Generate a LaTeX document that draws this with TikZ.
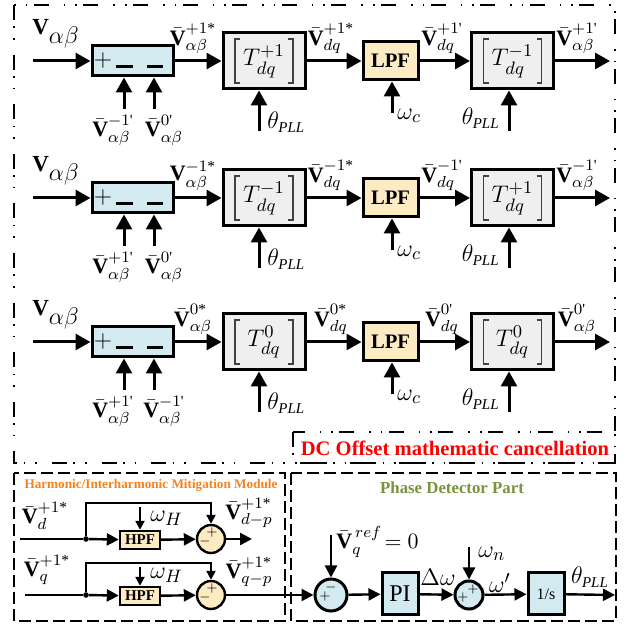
\documentclass[tikz,border=0pt]{standalone}
\usepackage{amsmath}
\usepackage{fontspec}
\setmainfont{Liberation Serif}
\usetikzlibrary{arrows.meta,calc}
\definecolor{subblue}{HTML}{D3EBF0}
\definecolor{tgray}{HTML}{EFEFEF}
\definecolor{lpfor}{HTML}{FDEBC4}
\definecolor{harmor}{HTML}{F58220}
\definecolor{phgreen}{HTML}{77933C}
\definecolor{dcred}{HTML}{FF0000}
\newcommand{\Vt}{\text{\bfseries V}}
\newcommand{\Vb}{\bar{\text{\bfseries V}}}
\newcommand{\pr}{\textnormal{\textquotesingle}}
\newcommand{\st}{\textnormal{*}}
\newcommand{\thp}{\theta_{\mbox{\fontsize{7.5}{8}\selectfont\itshape PLL}}}
\tikzset{
  arr/.style={line width=1.5pt,-{Triangle[length=7.5pt,width=8pt]}},
  arrs/.style={line width=1.2pt,-{Triangle[length=6pt,width=6pt]}},
  arrss/.style={line width=1.1pt,-{Triangle[length=4.5pt,width=4.5pt]}},
  plainln/.style={line width=1.2pt},
  barln/.style={line width=1.5pt},
  brk/.style={line width=0.6pt,black!75},
  lab/.style={inner sep=0pt,font=\fontsize{11}{13}\selectfont},
  biglab/.style={inner sep=0pt,font=\fontsize{12.5}{14}\selectfont},
  subbox/.style={draw,line width=1.5pt,fill=subblue,minimum width=40.5pt,minimum height=15pt,inner sep=0pt},
  tbox/.style={draw,line width=1.5pt,fill=tgray,minimum width=41pt,minimum height=28pt,inner sep=0pt,font=\fontsize{12.5}{14}\selectfont},
  lpfbox/.style={draw,line width=1.5pt,fill=lpfor,minimum width=27.5pt,minimum height=19pt,inner sep=0pt,font=\fontsize{10.3}{12}\selectfont\bfseries},
  hpfbox/.style={draw,line width=1.2pt,fill=lpfor,minimum width=20pt,minimum height=9pt,inner sep=0pt,font=\fontsize{7.5}{9}\selectfont\bfseries},
  pbox/.style={draw,line width=1.5pt,fill=subblue,minimum width=18pt,minimum height=21pt,inner sep=0pt},
  hcirc/.style={draw,circle,line width=1.2pt,fill=lpfor,minimum size=14pt,inner sep=0pt},
  pcirc/.style={draw,circle,line width=1.5pt,fill=subblue,minimum size=16pt,inner sep=0pt},
  sgn/.style={inner sep=0pt,font=\fontsize{6.5}{7}\selectfont},
  jdot/.style={circle,fill=black,minimum size=2.8pt,inner sep=0pt},
  ddbox/.style={line width=1pt,dash pattern=on 7.5pt off 3.2pt on 0.8pt off 5pt on 0.8pt off 7.5pt},
  dbox/.style={line width=1pt,dash pattern=on 6pt off 2.5pt},
}
\newcommand{\brackets}[1]{%
  \draw[brk] ($(#1.center)+(-24,-22)$) -- ++(-5,0) -- ++(0,44) -- ++(5,0);
  \draw[brk] ($(#1.center)+(24,-22)$) -- ++(5,0) -- ++(0,44) -- ++(-5,0);
}
\newcommand{\sigrow}[9]{%
  \coordinate (in#1) at (33,#2);
  \node[lab,font=\fontsize{11.5}{13}\selectfont] (vin#1) at (56,#2-27) {$\Vt_{\textstyle\alpha\beta}$};
  \node[subbox] (s#1) at (132.5,#2) {};
  \node[inner sep=0pt,font=\fontsize{12}{14}\selectfont] (p#1) at (103,#2) {$+$};
  \draw[barln] ($(s#1.center)+(-16.5,6)$) -- ++(17,0);
  \draw[barln] ($(s#1.center)+(14.5,6)$) -- ++(16,0);
  \draw[arr] (in#1) -- (s#1);
  \coordinate (ba#1) at (124,#2+48);
  \coordinate (bb#1) at (154,#2+48);
  \draw[arr] (ba#1) -- (ba#1 |- s#1.south);
  \draw[arr] (bb#1) -- (bb#1 |- s#1.south);
  \node[lab,anchor=north] (lba#1) at (113,#2+54) {$\Vb^{#8}_{\alpha\beta}$};
  \node[lab,anchor=north] (lbb#1) at (164,#2+54) {$\Vb^{#9}_{\alpha\beta}$};
  \node[tbox] (ta#1) at (264,#2) {$T^{#4}_{dq}$};
  \brackets{ta#1}
  \draw[arr] (s#1) -- (ta#1);
  \node[lab,anchor=south] (lsa#1) at (193,#2-7) {#3};
  \coordinate (tha#1) at (259,#2+70);
  \draw[arr] (tha#1) -- (tha#1 |- ta#1.south);
  \node[biglab,anchor=west] (ltha#1) at (267,#2+61) {$\thp$};
  \node[lpfbox] (l#1) at (390.5,#2) {LPF};
  \draw[arr] (ta#1) -- (l#1);
  \node[lab,anchor=south] (lda#1) at (331,#2-7) {$\Vb^{#5}_{dq}$};
  \coordinate (wc#1) at (392,#2+52);
  \draw[arr] (wc#1) -- (wc#1 |- l#1.south);
  \node[biglab,anchor=west] (lwc#1) at (397,#2+55) {$\omega_c$};
  \node[tbox] (tb#1) at (512.5,#2) {$T^{#7}_{dq}$};
  \brackets{tb#1}
  \draw[arr] (l#1) -- (tb#1);
  \node[lab,anchor=south] (ldb#1) at (442,#2-7) {$\Vb^{#6}_{dq}$};
  \coordinate (thb#1) at (509,#2+70);
  \draw[arr] (thb#1) -- (thb#1 |- tb#1.south);
  \node[biglab,anchor=east] (lthb#1) at (500,#2+57) {$\thp$};
  \coordinate (o#1) at (610,#2);
  \draw[arr] (tb#1) -- (o#1);
  \node[lab,anchor=south] (lo#1) at (577,#2-7) {$\Vb^{#6}_{\alpha\beta}$};
}
\begin{document}
\begin{tikzpicture}[x=0.5pt,y=-0.5pt]
\useasboundingbox (0,0) rectangle (632,624);
% frames
\draw[ddbox] (14,5) rectangle (615,463);
\draw[ddbox] (293,432) rectangle (615,463);
\node[inner sep=0pt,text=dcred,font=\fontsize{10.3}{12}\selectfont\bfseries] (dct) at (455,448) {DC Offset mathematic cancellation};
\draw[dbox] (14,473) rectangle (285,621);
\draw[dbox] (291,473) rectangle (616,621);
\node[inner sep=0pt,text=harmor,font=\fontsize{6.6}{8}\selectfont\bfseries] (ht) at (151,485) {Harmonic/Interharmonic Mitigation Module};
\node[inner sep=0pt,text=phgreen,font=\fontsize{8.4}{10}\selectfont\bfseries] (pt) at (452,488) {Phase Detector Part};
% rows
\sigrow{a}{61}{$\Vb^{+1\st}_{\alpha\beta}$}{+1}{+1\st}{+1\pr}{-1}{-1\pr}{0\pr}
\sigrow{b}{198}{$\Vt^{-1\st}_{\alpha\beta}$}{-1}{-1\st}{-1\pr}{+1}{+1\pr}{0\pr}
\sigrow{c}{342}{$\Vb^{0\st}_{\alpha\beta}$}{0}{0\st}{0\pr}{0}{+1\pr}{-1\pr}
% harmonic d
\coordinate (din) at (20,539);
\node[jdot] (dd) at (86,539) {};
\node[hpfbox] (hd) at (140,540) {HPF};
\node[hcirc] (cd) at (211,539) {};
\coordinate (dout) at (252,539);
\coordinate (bd) at (211,503);
\coordinate (wd) at (140,507);
\draw[plainln] (din) -- (dd);
\draw[arrs] (dd) -- (hd);
\draw[arrs] (hd) -- (cd);
\draw[arrs] (cd) -- (dout);
\draw[arrss] (dd) |- (bd) -- (cd);
\draw[arrss] (wd) -- (hd);
\node[sgn] (cdp) at ($(cd)+(1,-6)$) {$+$};
\node[sgn] (cdm) at ($(cd)+(-6,3)$) {$-$};
\node[biglab,anchor=west] (lwd) at (150,518) {$\omega_H$};
\node[lab] (lvd) at (45,516) {$\Vb^{+1\st}_{d}$};
\node[lab] (lvdp) at (249,513) {$\Vb^{+1\st}_{d-p}$};
% harmonic q
\coordinate (qin) at (25,595);
\node[jdot] (dq) at (86,595) {};
\node[hpfbox] (hq) at (140,596) {HPF};
\node[hcirc] (cq) at (211,595) {};
\coordinate (bq) at (211,563);
\coordinate (wq) at (140,567);
\draw[plainln] (qin) -- (dq);
\draw[arrs] (dq) -- (hq);
\draw[arrs] (hq) -- (cq);
\draw[arrss] (dq) |- (bq) -- (cq);
\draw[arrss] (wq) -- (hq);
\node[sgn] (cqp) at ($(cq)+(1,-6)$) {$+$};
\node[sgn] (cqm) at ($(cq)+(-6,3)$) {$-$};
\node[biglab,anchor=west] (lwq) at (150,575) {$\omega_H$};
\node[lab] (lvq) at (47,570) {$\Vb^{+1\st}_{q}$};
\node[lab] (lvqp) at (249,572) {$\Vb^{+1\st}_{q-p}$};
% phase detector
\node[pcirc] (c1) at (331,595) {};
\draw[arrs] (cq) -- (c1);
\coordinate (vr) at (331,535);
\draw[arrs] (vr) -- (c1);
\node[sgn] (c1m) at ($(c1)+(0,-7)$) {$-$};
\node[sgn] (c1p) at ($(c1)+(-6,2)$) {$+$};
\node[lab,anchor=west] (lvr) at (336,542) {$\Vb_q^{\,ref}\!=0$};
\node[pbox,font=\fontsize{12}{14}\selectfont] (pi) at (400,594) {PI};
\draw[arrs] (c1) -- (pi);
\node[hcirc,fill=subblue,line width=1.5pt] (c2) at (469,595) {};
\draw[arrs] (pi) -- (c2);
\node[biglab] (ldw) at (438,577) {$\Delta\omega$};
\coordinate (wn) at (469,547);
\draw[arrs] (wn) -- (c2);
\node[sgn] (c2a) at ($(c2)+(-6,3)$) {$+$};
\node[sgn] (c2b) at ($(c2)+(4,-5)$) {$+$};
\node[biglab,anchor=west] (lwn) at (478,554) {$\omega_n$};
\node[pbox,font=\fontsize{8}{10}\selectfont] (ints) at (546,594) {1/s};
\draw[arrs] (c2) -- (ints);
\node[biglab] (lwp) at (500,583) {$\omega'$};
\coordinate (thout) at (615,595);
\draw[arrs] (ints) -- (thout);
\node[biglab] (lth) at (590,577) {$\thp$};
\end{tikzpicture}
\end{document}
